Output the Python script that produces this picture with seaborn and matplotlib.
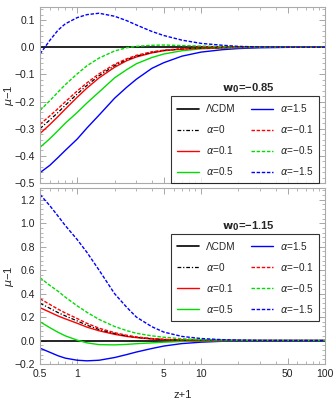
import matplotlib
matplotlib.use('Agg')
import matplotlib.pyplot as plt
import numpy as np
import pandas as pd
import seaborn as sns
from matplotlib.ticker import FixedLocator, NullFormatter, AutoMinorLocator, LogLocator

# z+1 sample points
zp1 = [0.5, 0.6, 0.7, 0.8, 1.0, 1.2, 1.5, 2.0, 2.5, 3.0, 4.0, 5.0, 7.0, 10, 15, 20, 30, 50, 100]

labels = ['ΛCDM', r'$\alpha$=0', r'$\alpha$=0.1', r'$\alpha$=0.5',
          r'$\alpha$=1.5', r'$\alpha$=−0.1', r'$\alpha$=−0.5', r'$\alpha$=−1.5']

# w0 = -0.85
top_lcdm = [0.0] * len(zp1)
top_a0 = [-0.300, -0.268, -0.240, -0.214, -0.172, -0.140, -0.105, -0.068, -0.046, -0.033,
          -0.019, -0.012, -0.006, -0.003, -0.0015, -0.001, -0.0005, 0, 0]
top_a01 = [-0.318, -0.285, -0.255, -0.228, -0.184, -0.150, -0.113, -0.074, -0.050, -0.036,
           -0.021, -0.013, -0.007, -0.0035, -0.0017, -0.001, -0.0005, 0, 0]
top_a05 = [-0.369, -0.337, -0.307, -0.280, -0.240, -0.205, -0.165, -0.113, -0.083, -0.061,
           -0.038, -0.025, -0.013, -0.006, -0.003, -0.0015, -0.0007, -0.0002, 0]
top_a15 = [-0.462, -0.435, -0.406, -0.380, -0.338, -0.297, -0.250, -0.188, -0.148, -0.118,
           -0.078, -0.057, -0.033, -0.018, -0.009, -0.005, -0.002, -0.0005, 0]
top_am01 = [-0.284, -0.253, -0.226, -0.201, -0.161, -0.131, -0.098, -0.063, -0.043, -0.030,
            -0.017, -0.011, -0.0055, -0.0027, -0.0013, -0.0008, -0.0004, 0, 0]
top_am05 = [-0.233, -0.197, -0.165, -0.138, -0.098, -0.068, -0.040, -0.014, -0.002, 0.003,
            0.007, 0.008, 0.006, 0.004, 0.002, 0.001, 0.0005, 0, 0]
top_am15 = [-0.025, 0.025, 0.063, 0.086, 0.109, 0.120, 0.125, 0.114, 0.098, 0.082,
            0.058, 0.043, 0.026, 0.014, 0.007, 0.003, 0.001, 0.0002, 0]

# w0 = -1.15
bot_lcdm = [0.0] * len(zp1)
bot_a0 = [0.318, 0.275, 0.238, 0.210, 0.167, 0.130, 0.094, 0.060, 0.040, 0.028,
          0.015, 0.009, 0.004, 0.002, 0.001, 0.0005, 0.0002, 0, 0]
bot_a01 = [0.280, 0.242, 0.209, 0.185, 0.147, 0.114, 0.083, 0.053, 0.035, 0.025,
           0.013, 0.008, 0.0035, 0.0018, 0.0009, 0.0004, 0.0002, 0, 0]
bot_a05 = [0.160, 0.110, 0.070, 0.040, 0.003, -0.020, -0.035, -0.037, -0.033, -0.027,
           -0.020, -0.014, -0.008, -0.004, -0.002, -0.001, -0.0005, 0, 0]
bot_a15 = [-0.065, -0.100, -0.130, -0.150, -0.168, -0.173, -0.168, -0.145, -0.120, -0.098,
           -0.068, -0.047, -0.026, -0.014, -0.006, -0.003, -0.001, -0.0003, 0]
bot_am01 = [0.356, 0.308, 0.267, 0.235, 0.187, 0.146, 0.105, 0.067, 0.045, 0.031,
            0.017, 0.010, 0.0045, 0.0022, 0.0011, 0.0006, 0.0002, 0, 0]
bot_am05 = [0.536, 0.470, 0.420, 0.370, 0.295, 0.240, 0.180, 0.120, 0.085, 0.062,
            0.040, 0.028, 0.015, 0.008, 0.004, 0.002, 0.001, 0.0003, 0]
bot_am15 = [1.245, 1.150, 1.060, 0.980, 0.860, 0.750, 0.600, 0.400, 0.285, 0.200,
            0.118, 0.072, 0.035, 0.017, 0.007, 0.004, 0.0015, 0.0004, 0]

# line styles per curve
styles = [
    ('black', '-', 1.2),
    ('black', (0, (3, 1.5, 1, 1.5)), 0.9),
    ('#ff0000', '-', 1.0),
    ('#00dd00', '-', 1.0),
    ('#0000ff', '-', 1.0),
    ('#ff0000', (0, (2.5, 1.2)), 1.0),
    ('#00dd00', (0, (2.5, 1.2)), 1.0),
    ('#0000ff', (0, (2.5, 1.2)), 1.0),
]

sns.set_style('ticks')
plt.rcParams['font.family'] = ['Liberation Sans', 'DejaVu Sans']
plt.rcParams['mathtext.fontset'] = 'dejavusans'


def draw_panel(ax, series, ylim, ymajor, leg_top):
    # draw order: lcdm first, dashed on top
    order = [0, 4, 3, 2, 1, 5, 6, 7]
    handles = [None] * 8
    for i in order:
        c, ls, lw = styles[i]
        sns.lineplot(x=zp1, y=series[i], ax=ax, color=c, linestyle=ls, linewidth=lw,
                     label=labels[i], legend=False, sort=False)
        handles[i] = ax.lines[-1]
    ax.set_xscale('log')
    ax.set_xlim(0.5, 100)
    ax.set_ylim(*ylim)
    ax.xaxis.set_major_locator(FixedLocator([0.5, 1, 5, 10, 50, 100]))
    ax.xaxis.set_minor_locator(LogLocator(base=10, subs=np.arange(1, 10)))
    ax.xaxis.set_minor_formatter(NullFormatter())
    ax.set_xticklabels(['0.5', '1', '5', '10', '50', '100'])
    ax.yaxis.set_major_locator(FixedLocator(ymajor))
    ax.yaxis.set_minor_locator(AutoMinorLocator(5))
    ax.set_yticklabels([('%.1f' % v).replace('-', '−') for v in ymajor])
    ax.tick_params(which='both', direction='in', top=True, right=True, labelsize=7.5,
                   color='#999999', labelcolor='#222222')
    ax.tick_params(which='major', length=4, width=0.6)
    ax.tick_params(which='minor', length=2, width=0.5)
    for s in ax.spines.values():
        s.set_color('#aaaaaa')
        s.set_linewidth(0.8)
    ax.set_ylabel(r'$\mu$−1', fontsize=8)
    ax.yaxis.set_label_coords(-0.084, 0.5)
    leg = ax.legend(handles=handles, labels=labels, ncol=2, loc='upper left',
                    bbox_to_anchor=(0.46, leg_top), fontsize=7.2, frameon=True,
                    fancybox=False, edgecolor='black', handlelength=2.2,
                    columnspacing=1.5, labelspacing=0.9, borderpad=0.6,
                    handletextpad=0.7, borderaxespad=0)
    leg.get_frame().set_linewidth(0.8)
    return leg


fig = plt.figure(figsize=(3.36, 4.0), dpi=100)
ax1 = fig.add_axes([0.119, 0.5425, 0.848, 0.44])
ax2 = fig.add_axes([0.119, 0.09, 0.848, 0.44])

top_series = [top_lcdm, top_a0, top_a01, top_a05, top_a15, top_am01, top_am05, top_am15]
bot_series = [bot_lcdm, bot_a0, bot_a01, bot_a05, bot_a15, bot_am01, bot_am05, bot_am15]

draw_panel(ax1, top_series, (-0.5, 0.148), [-0.5, -0.4, -0.3, -0.2, -0.1, 0.0, 0.1], 0.494)
draw_panel(ax2, bot_series, (-0.2, 1.30), [-0.2, 0.0, 0.2, 0.4, 0.6, 0.8, 1.0, 1.2], 0.74)
ax1.set_xticklabels([])
ax1.set_xlabel('')
ax2.set_xlabel('z+1', fontsize=8, labelpad=8)

ax1.text(0.73, 0.54, r'$\mathbf{w_0}$=−0.85', transform=ax1.transAxes, ha='center',
         va='center', fontsize=8, fontweight='bold')
ax2.text(0.73, 0.784, r'$\mathbf{w_0}$=−1.15', transform=ax2.transAxes, ha='center',
         va='center', fontsize=8, fontweight='bold')

fig.savefig('out.png', dpi=100)
